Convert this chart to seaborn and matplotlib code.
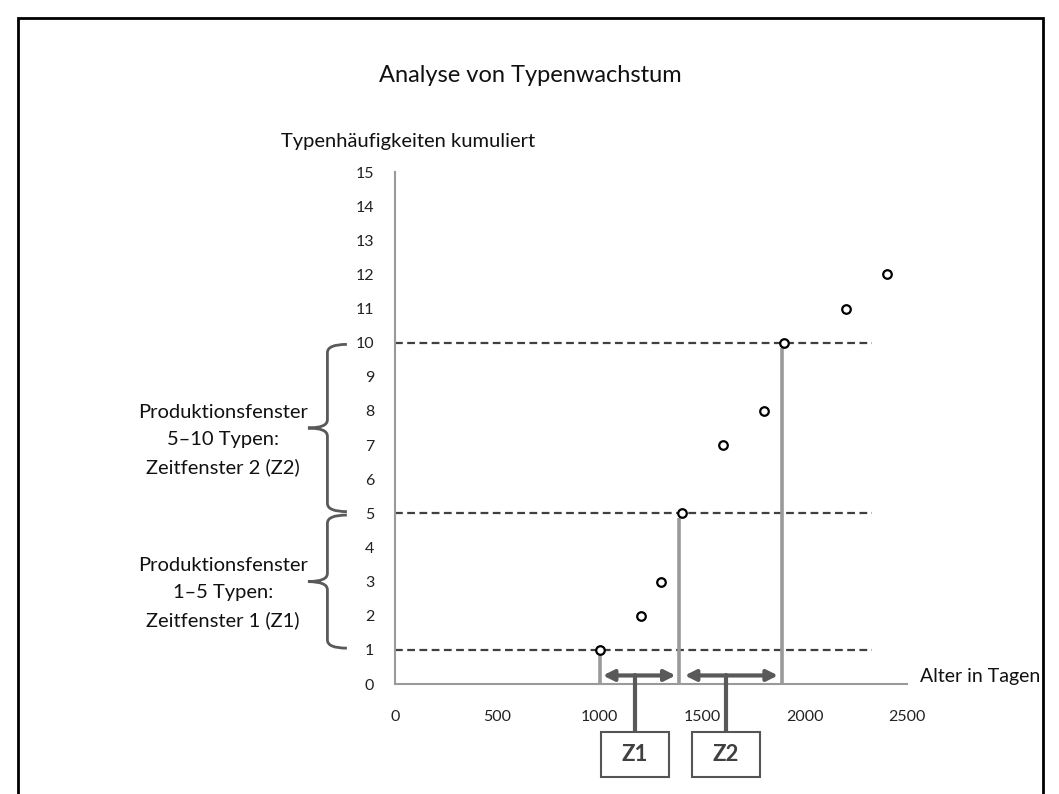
"""
Analyse von Typenwachstum: cumulative type frequencies over age in days.
"""
import numpy as np
import pandas as pd
import seaborn as sns
from matplotlib import pyplot as plt
from matplotlib.patches import Rectangle, PathPatch, FancyArrowPatch
from matplotlib.path import Path

# data
alter_tage = [1000, 1200, 1300, 1400, 1600, 1800, 1900, 2200, 2400]
typen_kum = [1, 2, 3, 5, 7, 8, 10, 11, 12]
grenzen = [1, 5, 10]                      # dashed production window bounds
fenster = [(1000, 1400), (1400, 1900)]     # Z1, Z2 in days
fenster_namen = ["Z1", "Z2"]
x_ticks = [0, 500, 1000, 1500, 2000, 2500]
y_ticks = list(range(0, 16))
brace_labels = ["Produktionsfenster\n1–5 Typen:\nZeitfenster 1 (Z1)",
                "Produktionsfenster\n5–10 Typen:\nZeitfenster 2 (Z2)"]

sns.set_theme(style="white")
plt.rcParams['font.family'] = ['Lato', 'DejaVu Sans']

DARK = "#595959"
MID = "#9a9a9a"


def draw_brace(ax, y0, y1, x, width=90, tip=90):
    """Curly brace opening to the right, spine at x, tip pointing left"""
    ym = (y0 + y1) / 2
    h = 0.12
    verts = [
        (x + width, y1 + 0.0), (x, y1), (x, y1 - h * 2),
        (x, ym + h * 2),
        (x, ym), (x - tip, ym),
        (x, ym), (x, ym - h * 2),
        (x, y0 + h * 2),
        (x, y0), (x + width, y0),
    ]
    codes = [Path.MOVETO, Path.CURVE3, Path.CURVE3,
             Path.LINETO,
             Path.CURVE3, Path.CURVE3,
             Path.CURVE3, Path.CURVE3,
             Path.LINETO,
             Path.CURVE3, Path.CURVE3]
    patch = PathPatch(Path(verts, codes), fill=False, edgecolor=DARK,
                      lw=2.0, clip_on=False)
    ax.add_patch(patch)


df = pd.DataFrame({"alter": alter_tage, "typen": typen_kum})

fig = plt.figure(figsize=(10.59, 7.94), dpi=100)
ax = fig.add_axes([395 / 1059, (794 - 684) / 794, 512 / 1059, 512 / 794])

# dashed reference lines
for g in grenzen:
    ax.plot([0, 2330], [g, g], ls=(0, (3.5, 2)), color="#404040", lw=1.6, zorder=2)

# vertical drop lines at the window borders
for xs, ys in zip(alter_tage, typen_kum):
    if ys in grenzen:
        xl = xs - 12 if ys > 1 else xs
        ax.plot([xl, xl], [0, ys - 0.15],
                color=MID, lw=2.6, zorder=2, solid_capstyle='butt')

sns.scatterplot(data=df, x="alter", y="typen", ax=ax, marker='o', s=38,
                facecolor='white', edgecolor='black', linewidth=1.6, zorder=4)

ax.set_xlim(0, 2500)
ax.set_ylim(0, 15)
ax.set_xticks(x_ticks)
ax.set_yticks(y_ticks)
ax.set_xticklabels([str(t) for t in x_ticks], fontsize=11.5, color="#222222")
ax.set_yticklabels([str(t) for t in y_ticks], fontsize=11.5, color="#222222")
ax.tick_params(axis='both', direction='out', length=5, width=1.2, color=MID, pad=10)
ax.tick_params(axis='x', pad=14)
ax.set_xlabel("")
ax.set_ylabel("")
for side in ['top', 'right']:
    ax.spines[side].set_visible(False)
for side in ['left', 'bottom']:
    ax.spines[side].set_color(MID)
    ax.spines[side].set_linewidth(1.5)

# time windows: double arrows, stems and labelled boxes
arrow_y = 0.25
for (a, b), name in zip(fenster, fenster_namen):
    arr = FancyArrowPatch((a + 15, arrow_y), (b - 30, arrow_y), arrowstyle='<|-|>',
                          mutation_scale=16, color=DARK, lw=3.0, clip_on=False,
                          shrinkA=0, shrinkB=0, zorder=5)
    ax.add_patch(arr)
    mid = a + (b - a) * 0.43
    ax.plot([mid, mid], [arrow_y, -1.4], color=DARK, lw=3.0, clip_on=False, zorder=5)
    box = Rectangle((mid - 165, -2.72), 330, 1.32, facecolor='white',
                    edgecolor="#555555", lw=1.5, clip_on=False, zorder=5)
    ax.add_patch(box)
    ax.text(mid, -2.06, name, ha='center', va='center', fontsize=16,
            fontweight='bold', color="#404040", zorder=6)

# braces and explanations on the left
for (y0, y1), label in zip([(1, 5), (5, 10)], brace_labels):
    draw_brace(ax, y0 + 0.05, y1 - 0.05, -330, width=95, tip=95)
    ax.text(-840, (y0 + y1) / 2 - 0.35, label, ha='center', va='center',
            fontsize=14.5, linespacing=1.7, color="#111111")

ax.text(2565, 0.22, "Alter in Tagen", ha='left', va='center', fontsize=14,
        color="#111111", clip_on=False)

fig.text(530 / 1059, (794 - 75) / 794, "Analyse von Typenwachstum", ha='center',
         va='center', fontsize=17, color="#111111")
fig.text(408 / 1059, (794 - 142) / 794, "Typenhäufigkeiten kumuliert", ha='center',
         va='center', fontsize=14.5, color="#111111")

# outer frame
frame = Rectangle((18 / 1059, -0.05), (1043 - 18) / 1059, (794 - 18) / 794 + 0.05,
                  transform=fig.transFigure, fill=False, edgecolor='black', lw=2.0)
fig.patches.append(frame)

fig.savefig("out.png", dpi=100)
